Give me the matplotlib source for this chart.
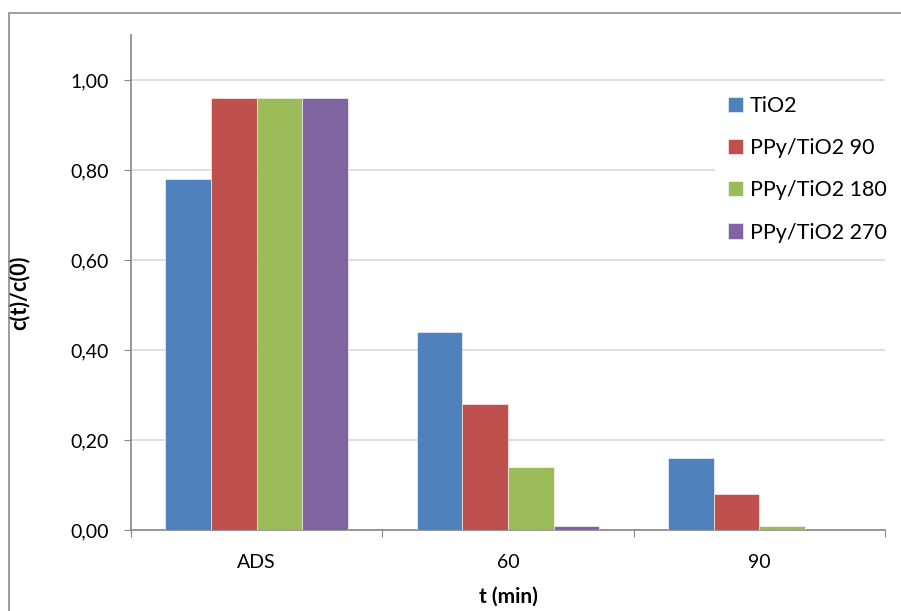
import numpy as np
import matplotlib
matplotlib.use("Agg")
import matplotlib.pyplot as plt
from matplotlib.ticker import FuncFormatter, FixedLocator
from matplotlib.transforms import blended_transform_factory
from matplotlib.patches import Rectangle

plt.rcParams['font.family'] = ['Lato', 'DejaVu Sans']

# data
categories = ["ADS", "60", "90"]
series = ["TiO2", "PPy/TiO2 90", "PPy/TiO2 180", "PPy/TiO2 270"]
tio2 = [0.78, 0.44, 0.16]
ppy90 = [0.96, 0.28, 0.08]
ppy180 = [0.96, 0.14, 0.01]
ppy270 = [0.96, 0.01, 0.00]
colors = ["#4F81BD", "#C0504D", "#9BBB59", "#8064A2"]

values = [tio2, ppy90, ppy180, ppy270]

fig = plt.figure(figsize=(9.01, 6.11), dpi=100)
ax = fig.add_axes([131 / 901, 81 / 611, 754 / 901, 495 / 611])

# outer chart border
fig.patches.append(Rectangle((9 / 901, -0.1), 1.2, (611 - 13) / 611 + 0.1,
                             transform=fig.transFigure, fill=False,
                             edgecolor="#8c8c8c", linewidth=1.2))

x = np.arange(len(categories))
width = 1 / 5.5
for i, (vals, name) in enumerate(zip(values, series)):
    ax.bar(x + (i - 1.5) * width, vals, width, color=colors[i], label=name,
           edgecolor="white", linewidth=0.4, zorder=3)

ax.set_xlim(-0.5, len(categories) - 0.5)
ax.set_ylim(0, 1.1)
ax.set_yticks(np.arange(0, 1.01, 0.2))
ax.yaxis.set_major_formatter(FuncFormatter(lambda v, p: f"{v:.2f}".replace(".", ",")))
ax.grid(axis="y", color="#d9d9d9", linewidth=1.2, zorder=0)

ax.xaxis.set_major_locator(FixedLocator(np.arange(-0.5, len(categories), 1.0)))
ax.xaxis.set_minor_locator(FixedLocator(x))
ax.set_xticklabels([], minor=False)
ax.set_xticklabels(categories, minor=True)
ax.tick_params(axis="x", which="major", length=5, color="#868686", direction="out")
ax.tick_params(axis="x", which="minor", length=0, pad=17, labelsize=14)
ax.tick_params(axis="y", length=5, color="#868686", pad=11, labelsize=14)

for s in ["top", "right"]:
    ax.spines[s].set_visible(False)
for s in ["left", "bottom"]:
    ax.spines[s].set_color("#868686")
    ax.spines[s].set_linewidth(1.2)

ax.set_ylabel("c(t)/c(0)", fontsize=15.5, fontweight="bold")
ax.yaxis.set_label_coords(-0.134, 0.48)
ax.set_xlabel("t (min)", fontsize=15, fontweight="bold")
ax.xaxis.set_label_coords(0.5, -0.115)

# white legend background hiding the gridlines
tr = blended_transform_factory(ax.transAxes, ax.transData)
ax.add_patch(Rectangle((0.7745, 0.605), 0.2255, 0.39, transform=tr,
                       facecolor="white", edgecolor="none", zorder=2))

ax.legend(loc="upper left", bbox_to_anchor=((728 - 131) / 754, (530 - 96) / 495),
          frameon=False, fontsize=15.5, borderpad=0, borderaxespad=0,
          handlelength=0.7, handleheight=0.7, handletextpad=0.3,
          labelspacing=1.03)

fig.savefig("out.png", dpi=100)
